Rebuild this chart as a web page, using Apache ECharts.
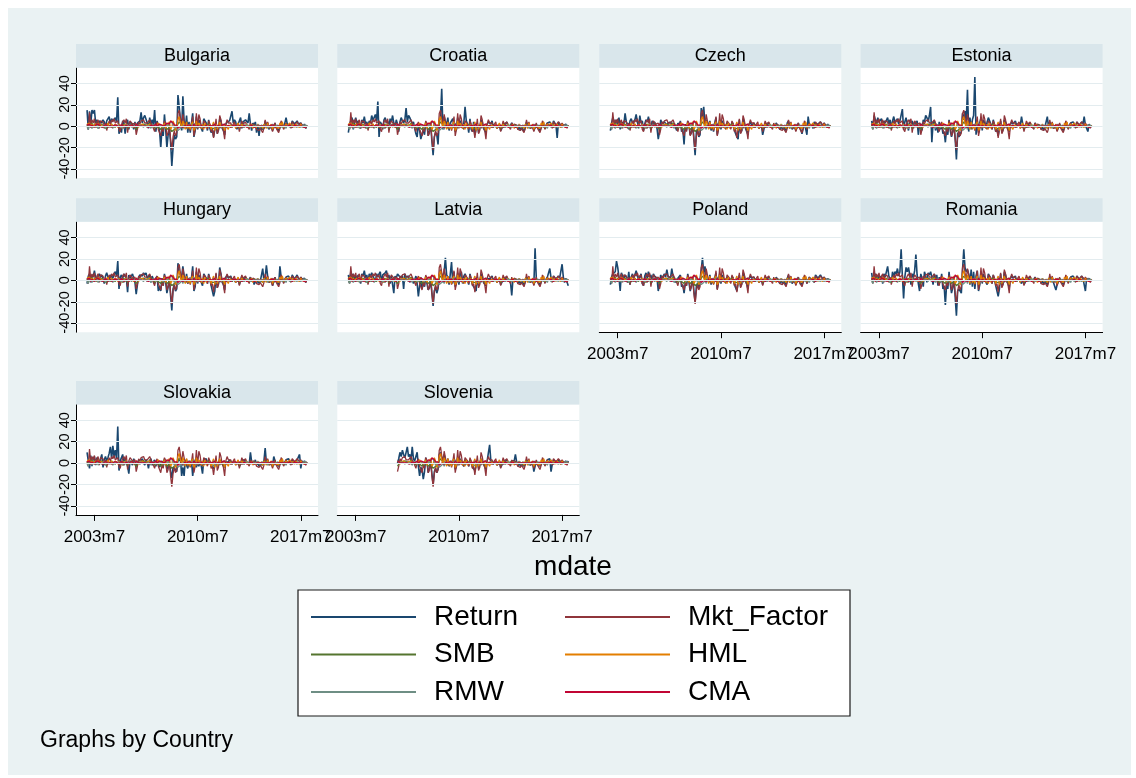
<!DOCTYPE html>
<html>
<head>
<meta charset="utf-8">
<title>Returns and factors by country</title>
<script src="https://cdn.jsdelivr.net/npm/echarts@6/dist/echarts.min.js"></script>
<style>
  html, body { margin: 0; padding: 0; background: #ffffff; }
  #chart { width: 1136px; height: 778px; }
</style>
</head>
<body>
<div id="chart"></div>
<script>
// Monthly observations, index 0 = 2003m1 ... 179 = 2017m12
const countries = ['Bulgaria', 'Croatia', 'Czech', 'Estonia', 'Hungary', 'Latvia', 'Poland', 'Romania', 'Slovakia', 'Slovenia'];
const firstMonth = [0, 0, 0, 0, 0, 0, 0, 0, 0, 40];   // Slovenia enters the sample in 2006m5

const monthTicks = [6, 90, 174];
const monthTickLabels = ['2003m7', '2010m7', '2017m7'];
const yTicks = [-40, -20, 0, 20, 40];

// Regional factors (%)
const mktFactor = [
  2, -3, 13, 1, 6, 3, 7, -1, 4, 6, -2, 5,
  6, 4, -2, 3, -4, 1, 5, 2, 6, 4, 7, 3,
  2, 5, -3, -5, 1, 4, 6, 3, 7, -6, 2, 5,
  6, 2, 1, 3, -8, -3, 4, 2, 5, 4, 6, 3,
  2, 3, 4, 6, 3, 1, 2, -5, 1, 4, -3, -6,
  -9, -2, -5, 5, 2, -9, -6, 2, -12, -22, -10, -4,
  -9, -6, 12, 15, 7, 1, 11, 5, -2, 4, -3, 2,
  -4, 1, 9, -9, -3, 12, -2, 11, 7, -1, -3, 5,
  4, 2, -3, 5, 2, -5, -3, -11, -12, 7, -7, -4,
  10, 6, -1, -4, -12, 2, 6, 3, 2, 3, -1, 2,
  4, -2, -3, 1, -5, -4, 5, 2, 3, 4, 1, 0,
  -3, 3, -1, 2, 1, 1, -3, -2, -4, -2, -3, -6,
  -2, 6, 0, 4, -2, -3, -1, -5, -5, 3, -2, -3,
  -6, -2, 5, 3, -3, -2, 3, 1, 2, 1, -2, 4,
  3, 1, 2, 4, 3, 1, 3, 1, 0, 1, -2, 1
];
const smb = [
  1, -2, 2, 0, 3, -1, 2, 1, -1, 2, 0, 1,
  2, 1, -1, 0, -2, 1, 1, -1, 2, 0, 1, -1,
  1, 2, -1, -2, 0, 1, 2, -1, 1, -2, 0, 1,
  2, 1, 0, 1, -3, -2, 1, 0, 1, 0, 2, 1,
  1, 2, 1, 3, 0, -1, 1, -2, 0, 1, -1, -2,
  -3, 0, -2, 1, 0, -3, -4, -1, -2, -5, -4, -3,
  -3, -1, 2, 4, 3, 1, 2, 1, -1, 0, -2, 1,
  0, -1, 2, -2, -1, 3, -1, 1, 2, 0, -2, 1,
  1, 0, -1, 2, 0, -1, -2, -3, -2, 1, -2, -1,
  2, 1, 0, -1, -3, 1, 1, 0, 1, 1, -1, 0,
  1, 0, -1, 1, -2, -1, 1, 0, 1, 1, 0, -1,
  -1, 1, 0, 1, 0, 0, -1, 0, -1, 0, -1, -2,
  0, 2, 0, 1, -1, -1, 0, -1, -2, 1, 0, -1,
  -2, 0, 1, 1, -1, 0, 1, 0, 1, 0, -1, 1,
  1, 0, 1, 1, 0, 0, 1, 0, 0, 0, -1, 0
];
const hml = [
  2, 1, 3, -1, 2, 0, 1, 2, -1, 3, 1, 0,
  1, 2, 0, -1, 1, 3, 0, 1, 2, -1, 0, 2,
  1, -1, 2, 0, 1, -2, 1, 0, 2, 1, -1, 0,
  1, 2, -1, 0, 2, 1, -1, 1, 0, 2, 1, 0,
  -1, 1, 0, 2, -1, 0, 1, 2, -1, 0, 3, 1,
  2, -1, 0, 3, -2, 1, 2, 4, -3, -1, 5, 2,
  -4, -2, 6, 9, 3, -1, 5, 2, -3, 4, -2, 1,
  -3, 2, 4, -4, -2, 5, -1, 3, 1, -2, 2, -3,
  3, -2, 1, -1, 2, -3, 1, 4, -4, 2, -3, 1,
  4, -1, -2, 2, -4, 1, 2, -3, 1, 2, 0, -1,
  2, -2, 1, 3, -1, -2, 2, 1, -1, 0, 2, -1,
  1, -1, 2, -2, 0, 1, -1, 2, -1, 0, 1, -2,
  2, 1, -2, 3, -1, 0, 2, -3, 1, 2, -1, 0,
  -2, 3, 1, 4, -1, -2, 2, 0, 1, 3, 1, 2,
  1, -1, 2, 0, 1, -1, 2, 0, 1, -1, 0, 1
];
const rmw = [
  -1, -3, 1, 2, -2, 0, 1, -1, 2, -2, 0, 1,
  -1, 0, 2, -2, 1, 0, -1, 1, 0, -2, 1, 0,
  0, -1, 1, 2, -1, 0, -2, 1, 0, 1, -1, 2,
  -1, 0, 1, -1, 2, 1, 0, -1, 1, 0, -1, 1,
  0, -1, 1, 0, -2, 1, 0, 1, -1, 0, 1, 2,
  1, 2, -1, 0, 2, 1, 0, 3, 2, 4, 1, -2,
  1, 2, -4, -3, -2, 0, -3, 1, 2, -1, 1, 0,
  2, -1, -2, 3, 1, -2, 1, -1, 0, 1, -1, 0,
  -1, 1, 0, -1, 1, 2, 0, 2, 3, -2, 1, 0,
  -2, -1, 1, 0, 2, -1, -1, 0, 1, -1, 0, 1,
  0, 1, -1, 0, 1, 2, -1, 0, -1, 1, 0, 1,
  1, -1, 0, 1, -1, 0, 1, 0, 1, -1, 1, 2,
  0, -1, 1, -2, 1, 0, -1, 2, 1, -1, 0, 1,
  2, 0, -1, -1, 1, 0, -2, 1, 0, -1, 1, -1,
  -1, 0, 0, -1, 1, 0, -1, 0, 1, 0, 1, 0
];
const cma = [
  1, 0, 2, -1, 1, 0, -1, 1, 0, 2, 1, 0,
  0, -1, 1, 0, 1, -1, 0, 1, -1, 0, 1, 0,
  1, 0, -1, 1, 0, 1, -1, 0, 1, 0, -1, 1,
  0, 1, 0, -1, 2, 1, 0, 1, 0, -1, 0, 1,
  0, 1, -1, 0, 1, 2, 0, 1, 2, 0, 1, 2,
  3, 1, 2, 0, 1, 3, 4, 2, 5, 6, 3, 1,
  2, 1, -2, -1, 0, 1, -1, 0, 1, -1, 1, 0,
  1, 0, -1, 2, 1, -1, 1, 0, -1, 1, 0, -1,
  0, 1, -1, 0, 1, 2, 0, 1, 2, -1, 0, 1,
  -1, 0, 1, 0, 2, -1, 0, 1, 0, -1, 0, 1,
  0, 1, 0, -1, 1, 0, -1, 0, 1, 0, -1, 0,
  0, -1, 1, 0, -1, 0, 0, 1, 0, -1, 0, 1,
  0, -1, 0, 1, 0, -1, 1, 0, 1, -1, 0, 0,
  1, 0, -1, 0, 1, 0, -1, 0, 0, 1, 0, -1,
  0, 1, 0, 0, -1, 0, 1, 0, 0, -1, 0, 0
];

// Country index returns (%)
const returnBulgaria = [
  15, -3, 14, 2, 15, 12, 15, 3, 6, -2, 5, 4,
  3, 6, 4, -1, 5, 4, 9, 2, 7, 5, 4, 8,
  4, 27, -7, -2, -6, 5, 3, -7, 2, 6, -3, 4,
  5, 2, -3, 4, -4, 3, 2, 5, 13, 3, 8, 10,
  9, 3, -2, 8, 2, 6, 1, 15, -5, 5, 4, -4,
  -20, -2, -9, 11, -3, -20, -8, -2, -15, -37, -20, -8,
  -12, -10, 29, 18, 6, -4, 28, 5, -2, 10, -6, 4,
  -6, 3, 12, -10, -4, 9, -3, 6, 4, -2, -5, 7,
  5, 3, -4, 6, -2, -6, -3, -10, -9, 4, -7, -3,
  7, 5, -2, -4, -8, 2, 4, 3, 5, 6, 14, 3,
  6, 4, -3, 2, 5, 8, -2, 4, 3, 6, 5, 3,
  12, 2, -4, 3, 1, 4, -6, 2, -9, 1, -3, -4,
  -2, 5, 1, 3, -3, -2, 1, -4, -5, 3, -1, -2,
  -4, -1, 4, 2, -2, -1, 8, 2, 3, 1, -1, 5,
  4, 2, 3, 5, 2, 1, 3, 1, -1, 2, -2, 1
];
const returnCroatia = [
  -6, 2, 5, 8, -3, 4, 8, 2, 5, 1, -2, 6,
  3, 9, 2, 4, -1, 5, 3, 10, 6, 8, 11, 5,
  23, -10, 4, 2, -3, 6, 8, 3, 5, -2, 7, 4,
  10, 3, -1, 6, 2, -5, 4, 8, 5, 3, 6, 17,
  4, 10, 8, 9, 2, 4, -2, -7, -10, 3, -4, -12,
  -11, -3, -8, 4, 2, -9, -5, 3, -14, -27, -10, -6,
  -8, -17, 5, 8, 35, -3, 9, 4, 2, 8, -4, 3,
  3, 7, 6, -5, -3, 8, 2, 5, 4, -2, 3, 18,
  5, 2, -6, 7, -3, -5, 4, -8, -7, 3, -6, -2,
  6, 4, -2, -3, -6, 2, 4, 3, 2, 5, -1, 2,
  3, -2, -3, 2, -4, -2, 3, 1, 2, 4, 1, -1,
  -2, 3, 1, 2, -1, 1, -3, 1, -4, -1, -2, -5,
  -1, 4, 0, 3, -2, -3, 1, -4, -3, 2, -1, -2,
  -4, -1, 3, 4, -2, 1, 3, 2, 4, 2, -1, 5,
  3, 1, -11, 4, 2, -1, 2, 0, 1, 2, -1, 1
];
const returnCzech = [
  -4, 3, 8, 5, 1, 6, 2, 8, -3, 4, 5, 2,
  12, 4, 2, -3, 5, 7, 3, 2, 6, 11, 4, -2,
  10, 3, 5, -4, 2, 6, 4, 9, 1, -3, 5, 2,
  4, 3, -2, -12, -5, 6, 3, 2, 4, 5, 1, 3,
  2, 4, 1, 3, 2, -1, -4, 3, 1, 5, -5, -3,
  -17, 2, -4, 5, 1, -8, -6, 3, -12, -27, -6, -3,
  -10, -8, 17, 8, 18, 3, 6, 4, -1, 5, -4, 2,
  -5, 3, 8, -8, -2, 6, -3, 5, 4, -1, -2, 3,
  3, 1, -2, 4, 2, -4, -3, -10, -12, 6, -6, -4,
  7, 3, -2, -3, -8, 2, 4, 1, 2, 3, -1, 2,
  2, -2, -3, 1, -8, -3, 3, 1, 2, 3, 0, -1,
  -1, 2, -1, 3, 1, 0, -3, 1, -3, -1, -2, -4,
  3, 5, -2, 2, -3, -1, 1, -4, -3, 3, -1, -3,
  -7, -2, 3, 2, -8, 9, 1, 2, 1, -2, 4, 2,
  3, 2, 1, 4, 2, 0, 3, 1, -1, 2, -1, 1
];
const returnEstonia = [
  5, -2, 10, 6, 2, 8, 4, 3, 7, -1, 5, 3,
  4, 8, 2, 6, -2, 5, 9, 3, 4, 7, 2, 5,
  6, 16, -3, 4, 8, 2, -4, 6, 3, 5, -2, 4,
  2, 5, -8, 3, 1, -4, 6, 4, 10, 8, 4, 10,
  18, -15, 3, 5, -4, 2, -6, 4, -3, 2, -7, -5,
  -15, -2, -8, 6, -4, -10, -5, 2, -12, -31, -6, -10,
  -8, -5, 12, 6, 14, 5, 34, -5, 8, -3, 6, 10,
  46, -8, 5, -6, 3, 8, -4, 6, 3, -2, 4, 8,
  5, 2, -3, 6, 1, -5, -3, -9, -8, 5, -6, -3,
  6, 4, 1, -3, -5, 2, 4, 2, 3, 5, 1, 2,
  3, 1, 9, 2, -3, -2, 3, 1, 2, 3, 0, -1,
  -2, 3, 1, 2, -1, 1, -3, 0, -4, -1, -2, 9,
  -1, 4, 0, 3, -2, -3, 1, -4, -3, 2, -1, -2,
  -4, -1, 3, 2, -2, 1, 3, 2, 4, 2, -1, 4,
  3, 1, 2, 4, 2, 9, 1, 2, -5, 2, -1, 1
];
const returnHungary = [
  -3, 4, 6, -2, 5, 3, 9, 2, -1, 4, 6, 3,
  5, 2, -3, 4, 7, 3, 1, 5, 4, 2, 6, 8,
  4, 18, -8, 3, 5, 2, 6, 4, 2, -11, 5, 2,
  4, 6, 2, -2, -13, -4, 3, 5, 6, 4, 7, 5,
  7, 2, 3, 5, -2, 4, 1, -3, 2, 4, -10, -6,
  -10, 2, -5, 6, -2, -12, -6, 3, -14, -28, -8, -4,
  -10, -8, 16, 8, 5, 3, 13, 4, -2, 6, -3, 2,
  3, 2, 13, -10, -6, 8, -3, 5, 4, -2, -5, 6,
  5, 2, -3, 6, 1, -5, -4, -15, -10, 6, -7, -3,
  12, 6, -2, -4, -9, 3, 5, 2, 3, 4, -1, 2,
  3, -2, -3, 2, -4, -3, 4, 1, 2, 3, 1, -1,
  -2, 3, -1, 2, -4, 1, -3, 1, -3, -1, -2, 11,
  -1, 3, 14, 4, -2, -3, 1, -5, -4, 3, -1, -2,
  -4, 13, 3, 4, -2, 1, 3, 2, 4, 2, -1, 5,
  3, 1, 2, 5, 2, -1, 3, 1, 0, 2, -2, 1
];
const returnLatvia = [
  5, -2, 8, 3, 6, -1, 4, 2, 5, 3, -3, 6,
  4, 9, 2, 5, -2, 6, 3, 7, 4, 5, -1, 6,
  3, 6, 8, -2, 5, 4, 7, 9, 2, 5, -3, 4,
  3, -12, 4, 2, 6, 5, 3, 2, 4, -8, 6, 3,
  2, 4, -2, 3, 1, -3, -2, 4, -3, -15, -5, 3,
  -8, -2, -6, 4, -3, -9, -7, 2, -12, -24, -10, -6,
  -12, -8, 4, 10, 6, -2, 8, 21, 5, 3, -4, 6,
  17, -3, 8, -6, -2, 7, -4, 5, 8, -3, 4, 6,
  3, 2, -4, 6, 1, -4, -3, -8, -10, 3, -5, -2,
  6, 4, -2, -3, -5, 2, 3, 1, 2, 4, -1, 2,
  3, -2, -3, 2, -4, -2, 3, 1, 2, 3, 0, -1,
  -2, -14, 1, 2, -1, 1, -3, 1, -4, -1, -2, -4,
  -1, 3, 0, 3, -2, -3, 1, -4, 30, 2, -1, -2,
  -4, -1, 3, 2, -2, 1, 3, 2, 11, 2, -1, 4,
  3, 1, 2, 4, 2, 1, 15, 3, -2, 2, 1, -5
];
const returnPoland = [
  -4, 3, 6, 5, 8, 18, 12, 3, -10, 7, 4, 2,
  5, 3, -2, 8, -4, 3, 6, 2, 5, 9, 4, 1,
  3, 6, -3, -5, 4, 7, 2, 8, 3, 5, -2, 6,
  4, 3, 2, -10, -3, 5, 2, 4, 6, 3, 10, 4,
  3, 2, 11, 4, 1, -2, -3, 2, 1, 5, -6, -4,
  -12, -3, -5, 6, -2, -10, -5, 3, -10, -20, -6, -3,
  -8, -9, 10, 21, 6, 13, 5, 4, -1, 5, -4, 2,
  -3, 2, 7, -8, -2, 6, -3, 5, 4, -1, -2, 3,
  3, 1, -2, 4, 2, -4, -3, -10, -9, 5, -6, -3,
  7, 4, -1, -3, -8, 2, 4, 2, 3, 3, -1, 2,
  2, -2, -3, 1, -4, -5, 3, 1, 2, 3, 0, -1,
  -1, 2, -1, 3, 1, 0, -3, 1, -3, -1, -2, -4,
  2, 5, -2, 3, -3, -1, 1, -4, -3, 3, -1, -4,
  -5, -2, 4, 2, -3, -2, 3, 1, 2, 1, -2, 5,
  4, 2, 3, 5, 3, 1, 3, 1, -1, 2, -1, 1
];
const returnRomania = [
  7, -2, 4, 6, 3, -1, 5, 2, 4, -3, 6, 3,
  2, 13, 4, 5, -2, 8, 3, 8, 6, 11, 4, 8,
  29, 4, -17, 3, 12, 8, 12, 5, -4, 6, 3, 9,
  24, 5, -3, -10, 6, 2, -6, 8, 4, -2, 7, 5,
  8, 3, -4, 6, 2, 5, -5, 3, -2, 6, -8, -5,
  -23, -4, -8, 8, -3, -12, -7, 2, -16, -33, -10, -8,
  -8, -12, 10, 29, 12, 8, 10, 6, -4, 10, -6, 8,
  -8, 4, 9, -10, -4, 8, -3, 6, 5, -2, -4, 6,
  4, 2, -3, 5, 1, -5, -4, -15, -8, 6, -6, -3,
  8, 5, -1, -3, -7, 2, 4, 2, 3, 4, -1, 2,
  3, -1, -3, 2, -4, -2, 3, 1, 2, 3, 1, -1,
  -2, 3, 1, 2, -1, 1, -3, 0, -4, -1, -2, -4,
  -1, 3, 0, 3, -2, -3, -9, -4, -3, 2, -1, -2,
  -4, -1, 3, 2, -2, 1, 3, 2, 4, 2, -1, 4,
  3, 1, 2, 4, 2, 2, -10, 2, 0, 2, -1, 1
];
const returnSlovakia = [
  10, 2, -5, 7, -3, 4, 6, -2, 5, 3, 1, 4,
  8, -4, 3, 6, 2, 5, 9, 15, 4, 16, 6, 12,
  4, 34, -7, 2, 3, 8, -2, 4, 1, -3, -10, 2,
  3, -2, 4, 1, -3, 2, 3, -1, 2, 4, 1, -2,
  3, 1, -5, 2, 4, -2, 1, 3, -3, 2, 1, -4,
  -5, 2, -3, 4, 1, -6, -3, 2, -8, -14, -4, -3,
  -6, -8, 4, 2, 5, -12, -4, -12, 3, -2, -5, 2,
  -3, 2, -12, -2, 3, -4, 1, -3, 2, -3, -10, 3,
  2, 4, -2, 3, 1, -3, -2, -5, -4, 2, -3, -1,
  3, 2, -1, -2, -4, 1, 2, 1, 3, 2, -1, 1,
  2, -1, -2, 1, -3, -1, 2, 1, 3, 2, 0, -1,
  -1, 10, 1, 2, -1, 3, -2, 1, -3, 0, -2, -3,
  2, 14, 0, 3, -1, -2, 1, -3, 6, 2, -1, -2,
  -3, -1, 3, 2, -2, 1, 3, 2, 4, 2, -1, 3,
  2, 1, 2, 3, 2, 8, -5, 2, 0, 2, -1, 1
];
const returnSlovenia = [
  0, 4, 10, 6, 12, 8, 5, 10,
  15, 6, 8, 3, 15, 4, 2, 6, 10, -3, -12, -4,
  -6, -15, -8, 5, 1, -9, -5, 2, -10, -20, -8, -5,
  -9, -6, 8, 10, 5, 2, 8, 3, -2, 4, -3, 2,
  -2, 1, 4, -6, -3, 5, -2, 4, 3, -1, -3, 3,
  2, 1, -3, 3, 1, -4, -3, -7, -8, 3, -5, -2,
  4, 3, -1, -3, -6, 2, 3, 17, 2, 3, -1, 2,
  2, -2, -3, 1, -4, -2, 3, 1, 2, 3, 1, -1,
  -1, 2, 1, 2, 8, 1, -3, 1, -3, -1, -2, -3,
  -1, 3, 0, 2, -2, -3, 1, -8, -3, 2, -1, -2,
  -3, -1, 3, 2, -2, 1, 3, 2, 4, -8, -1, 3,
  3, 1, 2, 3, 2, -1, 2, 1, 0, 2, -1, 2
];

const countryReturns = [returnBulgaria, returnCroatia, returnCzech, returnEstonia, returnHungary,
  returnLatvia, returnPoland, returnRomania, returnSlovakia, returnSlovenia];
const factorNames = ['Mkt_Factor', 'SMB', 'HML', 'RMW', 'CMA'];
const factorValues = [mktFactor, smb, hml, rmw, cma];

// s2color palette
const lineColors = {
  Return: '#1A476F', Mkt_Factor: '#90353B', SMB: '#55752F',
  HML: '#E37E00', RMW: '#6E8E84', CMA: '#C10534'
};

const FONT = '"Liberation Sans", Arial, Helvetica, sans-serif';
const colLeft = [76, 337.3, 599.3, 860.6];
const rowTop = [67.7, 221.8, 404.5];
const plotW = 242, plotH = 110.4, stripH = 23.6;

const grid = [], xAxis = [], yAxis = [], series = [];
const graphic = [
  { type: 'rect', z: -100, silent: true, shape: { x: 8, y: 8, width: 1123, height: 767 }, style: { fill: '#EAF2F3' } }
];

function points(values, start) {
  const out = [];
  values.forEach((v, k) => out.push([start + k, v]));
  return out;
}

countries.forEach((name, i) => {
  const col = i % 4, row = Math.floor(i / 4);
  const hasX = row === 2 || (row === 1 && col >= 2);
  const hasY = col === 0;
  const start = firstMonth[i];

  grid.push({
    left: colLeft[col], top: rowTop[row], width: plotW, height: plotH,
    show: true, backgroundColor: '#ffffff', borderWidth: 0
  });
  xAxis.push({
    type: 'value', gridIndex: i, min: -9, max: 188,
    axisLine: { show: hasX, onZero: false, lineStyle: { color: '#000', width: 1 } },
    axisTick: { show: hasX, customValues: monthTicks, length: 6, lineStyle: { color: '#000', width: 1 } },
    axisLabel: {
      show: hasX, customValues: monthTicks, margin: 14, fontSize: 17, color: '#000', fontFamily: FONT,
      hideOverlap: false,
      formatter: v => monthTickLabels[monthTicks.indexOf(Math.round(v))] || ''
    },
    splitLine: { show: false }
  });
  yAxis.push({
    type: 'value', gridIndex: i, min: -48.4, max: 54.6,
    axisLine: { show: hasY, onZero: false, lineStyle: { color: '#000', width: 1 } },
    axisTick: { show: hasY, customValues: yTicks, length: 5, lineStyle: { color: '#000', width: 1 } },
    axisLabel: {
      show: hasY, customValues: yTicks, rotate: 90, margin: 4, fontSize: 14.5, color: '#000', fontFamily: FONT,
      hideOverlap: false
    },
    splitLine: { show: false }
  });

  // horizontal grid lines at the y ticks
  series.push({
    type: 'line', name: 'grid' + i, xAxisIndex: i, yAxisIndex: i, data: [], z: 1,
    silent: true, animation: false,
    markLine: {
      silent: true, animation: false, symbol: ['none', 'none'], label: { show: false },
      lineStyle: { color: '#E3ECEF', width: 1, type: 'solid' },
      emphasis: { disabled: true },
      data: yTicks.map(v => ({ yAxis: v }))
    }
  });

  const lines = [['Return', countryReturns[i]]].concat(
    factorNames.map((f, j) => [f, factorValues[j].slice(start)])
  );
  lines.forEach(([sname, vals]) => {
    series.push({
      type: 'line', name: sname, xAxisIndex: i, yAxisIndex: i, z: 2,
      data: points(vals, start),
      showSymbol: false, symbol: 'none', animation: false, silent: true,
      color: lineColors[sname],
      lineStyle: { color: lineColors[sname], width: sname === 'Return' ? 1.6 : 1.3 },
      emphasis: { disabled: true }
    });
  });

  // panel strip with the country name
  graphic.push({
    type: 'rect', z: 1, silent: true,
    shape: { x: colLeft[col], y: rowTop[row] - stripH, width: plotW, height: stripH },
    style: { fill: '#D9E6EB' }
  });
  graphic.push({
    type: 'text', z: 2, silent: true,
    x: colLeft[col] + plotW / 2, y: rowTop[row] - stripH / 2,
    style: { text: name, font: '18px ' + FONT, fill: '#000', align: 'center', verticalAlign: 'middle', textAlign: 'center', textVerticalAlign: 'middle' }
  });
});

// axis title, legend frame and note
graphic.push({
  type: 'text', z: 2, silent: true, x: 573, y: 567,
  style: { text: 'mdate', font: '28px ' + FONT, fill: '#000', align: 'center', verticalAlign: 'middle', textAlign: 'center', textVerticalAlign: 'middle' }
});
graphic.push({
  type: 'rect', z: 3, silent: true,
  shape: { x: 298, y: 590, width: 552, height: 126 },
  style: { fill: '#ffffff', stroke: '#1a1a1a', lineWidth: 1.2 }
});
graphic.push({
  type: 'text', z: 2, silent: true, x: 40, y: 741,
  style: { text: 'Graphs by Country', font: '23px ' + FONT, fill: '#000', align: 'left', verticalAlign: 'middle', textAlign: 'left', textVerticalAlign: 'middle' }
});

const legendCommon = {
  orient: 'vertical', top: 602, padding: 0, itemGap: 7.5,
  icon: 'rect', itemWidth: 105, itemHeight: 2, selectedMode: false, z: 10,
  textStyle: { fontSize: 28, lineHeight: 30, color: '#000', fontFamily: FONT, padding: [0, 0, 0, 13] }
};

const option = {
  animation: false,
  backgroundColor: '#ffffff',
  grid, xAxis, yAxis, series, graphic,
  legend: [
    Object.assign({}, legendCommon, { left: 311, data: ['Return', 'SMB', 'RMW'] }),
    Object.assign({}, legendCommon, { left: 565, data: ['Mkt_Factor', 'HML', 'CMA'] })
  ]
};

const chart = echarts.init(document.getElementById('chart'), null, { renderer: 'canvas' });
chart.setOption(option);
</script>
</body>
</html>
